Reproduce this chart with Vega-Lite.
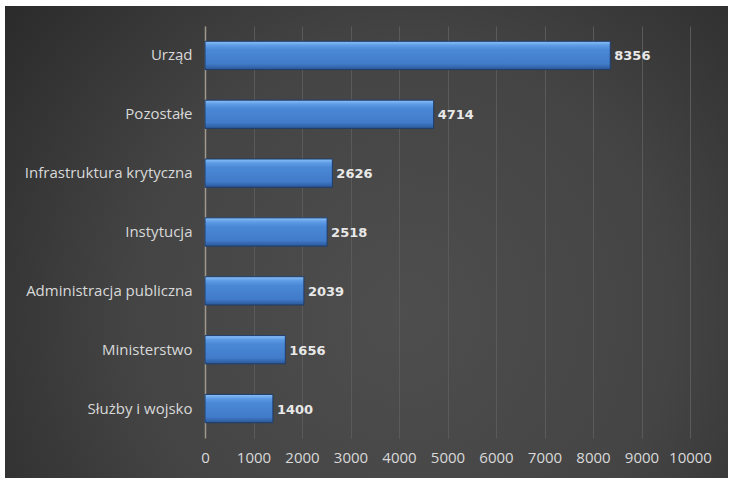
{
  "$schema": "https://vega.github.io/schema/vega-lite/v6.json",
  "width": 723,
  "height": 472,
  "autosize": {"type": "none"},
  "padding": {"left": 5, "top": 6, "right": 5, "bottom": 5},
  "background": "#ffffff",
  "config": {
    "view": {
      "stroke": null,
      "fill": {
        "gradient": "radial",
        "x1": 0.55, "y1": 0.6, "r1": 0,
        "x2": 0.55, "y2": 0.6, "r2": 0.75,
        "stops": [
          {"offset": 0, "color": "#4e4e4e"},
          {"offset": 0.5, "color": "#444444"},
          {"offset": 1, "color": "#262626"}
        ]
      }
    }
  },
  "data": {
    "values": [
      {"kategoria": "Urząd", "liczba": 8356},
      {"kategoria": "Pozostałe", "liczba": 4714},
      {"kategoria": "Infrastruktura krytyczna", "liczba": 2626},
      {"kategoria": "Instytucja", "liczba": 2518},
      {"kategoria": "Administracja publiczna", "liczba": 2039},
      {"kategoria": "Ministerstwo", "liczba": 1656},
      {"kategoria": "Służby i wojsko", "liczba": 1400}
    ]
  },
  "encoding": {
    "y": {
      "field": "kategoria",
      "type": "nominal",
      "sort": null,
      "scale": {"range": [20, 432], "paddingInner": 0.52, "paddingOuter": 0.26},
      "axis": {
        "title": null,
        "orient": "left",
        "offset": -200,
        "ticks": false,
        "domain": true,
        "domainColor": "#a0978d",
        "domainWidth": 1.5,
        "labelPadding": 13,
        "labelFont": "Open Sans",
        "labelFontSize": 15,
        "labelColor": "#d9d9d9",
        "grid": false
      }
    },
    "x": {
      "field": "liczba",
      "type": "quantitative",
      "scale": {"domain": [0, 10000], "range": [200, 685], "nice": false},
      "axis": {
        "title": null,
        "orient": "bottom",
        "offset": -40,
        "values": [0, 1000, 2000, 3000, 4000, 5000, 6000, 7000, 8000, 9000, 10000],
        "format": "d",
        "domain": false,
        "grid": false,
        "ticks": true,
        "tickSize": -412,
        "tickColor": "#5a5a5a",
        "tickWidth": 1,
        "labelPadding": 424,
        "labelFlush": false,
        "labelFont": "Open Sans",
        "labelFontSize": 15,
        "labelColor": "#d9d9d9"
      }
    }
  },
  "layer": [
    {
      "mark": {
        "type": "bar",
        "stroke": "#1f3d6b",
        "strokeWidth": 1,
        "color": {
          "gradient": "linear",
          "x1": 0, "y1": 0, "x2": 0, "y2": 1,
          "stops": [
            {"offset": 0, "color": "#8cc2f9"},
            {"offset": 0.14, "color": "#5e9ce6"},
            {"offset": 0.3, "color": "#4a88d6"},
            {"offset": 0.8, "color": "#417bc9"},
            {"offset": 1, "color": "#2a5797"}
          ]
        }
      }
    },
    {
      "mark": {
        "type": "text",
        "align": "left",
        "baseline": "middle",
        "dx": 4,
        "dy": 1,
        "font": "DejaVu Sans",
        "fontWeight": "bold",
        "fontSize": 13,
        "color": "#e8e8e8"
      },
      "encoding": {
        "text": {"field": "liczba", "type": "quantitative", "format": "d"}
      }
    }
  ]
}
